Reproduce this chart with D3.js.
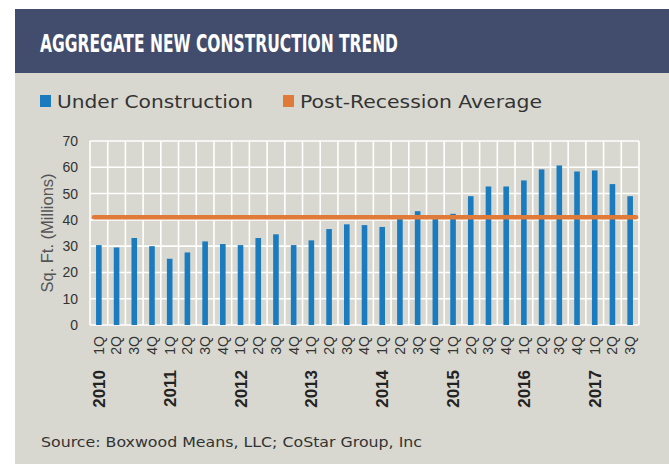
<!DOCTYPE html>
<html>
<head>
<meta charset="utf-8">
<script src="https://cdn.jsdelivr.net/npm/d3@7"></script>
<style>
  html, body { margin: 0; padding: 0; background: #ffffff; }
  svg { display: block; }
</style>
</head>
<body>
<svg id="chart" width="669" height="464"></svg>
<script>
const years = ["2010", "2011", "2012", "2013", "2014", "2015", "2016", "2017"];
const quarters = ["1Q", "2Q", "3Q", "4Q"];
const underConstruction = [
  30.4, 29.5, 33.1, 30.0,
  25.2, 27.6, 31.8, 30.8,
  30.4, 33.1, 34.5, 30.4,
  32.2, 36.5, 38.3, 38.0,
  37.3, 40.3, 43.3, 40.3,
  42.3, 49.0, 52.7, 52.7,
  55.0, 59.2, 60.7, 58.4,
  58.8, 53.6, 49.0
];
const postRecessionAverage = 41.0;
const yTicks = [0, 10, 20, 30, 40, 50, 60, 70];

const title = "AGGREGATE NEW CONSTRUCTION TREND";
const legendLabels = ["Under Construction", "Post-Recession Average"];
const yAxisTitle = "Sq. Ft. (Millions)";
const sourceText = "Source: Boxwood Means, LLC; CoStar Group, Inc";

const cats = [];
underConstruction.forEach((v, i) => {
  cats.push({ key: i, year: years[Math.floor(i / 4)], q: quarters[i % 4], value: v });
});

const svg = d3.select("#chart");
const bg = "#d8d8d0";
const blue = "#1a7bbf";
const orange = "#e07a38";

svg.append("rect").attr("x", 15).attr("y", 9).attr("width", 654).attr("height", 455).attr("fill", bg);
svg.append("rect").attr("x", 15).attr("y", 9).attr("width", 654).attr("height", 64).attr("fill", "#424c6c");

svg.append("text")
  .attr("x", 40).attr("y", 52)
  .attr("fill", "#ffffff")
  .attr("font-family", "'DejaVu Sans Condensed', 'Liberation Sans Narrow', sans-serif")
  .attr("font-stretch", "condensed")
  .attr("font-weight", "bold")
  .attr("font-size", 25)
  .attr("textLength", 358)
  .attr("lengthAdjust", "spacingAndGlyphs")
  .text(title);

const legend = svg.append("g");
const legendItems = [
  { label: legendLabels[0], color: blue, x: 40, w: 196 },
  { label: legendLabels[1], color: orange, x: 283, w: 242 }
];
legendItems.forEach(d => {
  legend.append("rect").attr("x", d.x).attr("y", 95).attr("width", 11).attr("height", 12).attr("fill", d.color);
  legend.append("text")
    .attr("x", d.x + 17).attr("y", 108)
    .attr("fill", "#333333")
    .attr("font-family", "'DejaVu Sans', sans-serif")
    .attr("font-size", 18.5)
    .attr("textLength", d.w)
    .attr("lengthAdjust", "spacingAndGlyphs")
    .text(d.label);
});

const plot = { left: 90, right: 639, top: 141, bottom: 325 };

const x = d3.scaleBand()
  .domain(cats.map(d => d.key))
  .range([plot.left, plot.right])
  .paddingInner(0)
  .paddingOuter(0);

const y = d3.scaleLinear().domain([0, 70]).range([plot.bottom, plot.top]);

const g = svg.append("g");

g.append("g").selectAll("line").data(yTicks).join("line")
  .attr("x1", plot.left).attr("x2", plot.right)
  .attr("y1", d => y(d)).attr("y2", d => y(d))
  .attr("stroke", "#ffffff").attr("stroke-width", 1.6);

const boundaries = cats.map(d => x(d.key)).concat([plot.right]);
g.append("g").selectAll("line").data(boundaries).join("line")
  .attr("x1", d => d).attr("x2", d => d)
  .attr("y1", plot.top).attr("y2", plot.bottom)
  .attr("stroke", "#ffffff").attr("stroke-width", 1.6);

const barW = 5.6;
g.append("g").selectAll("rect").data(cats).join("rect")
  .attr("x", d => x(d.key) + x.bandwidth() / 2 - barW / 2)
  .attr("y", d => y(d.value))
  .attr("width", barW)
  .attr("height", d => y(0) - y(d.value))
  .attr("fill", blue);

g.append("line")
  .attr("x1", x(cats[0].key) + 4)
  .attr("x2", x(cats[cats.length - 1].key) + x.bandwidth() - 3)
  .attr("y1", y(postRecessionAverage)).attr("y2", y(postRecessionAverage))
  .attr("stroke", orange).attr("stroke-width", 4.5)
  .attr("stroke-linecap", "round");

const yAxis = d3.axisLeft(y).tickValues(yTicks).tickSize(0).tickPadding(12);
const yg = svg.append("g").attr("transform", `translate(${plot.left},0)`).call(yAxis);
yg.select(".domain").remove();
yg.selectAll("text")
  .attr("font-family", "'Liberation Sans', Arial, sans-serif")
  .attr("font-size", 14)
  .attr("fill", "#333333");

svg.append("text")
  .attr("transform", `translate(53,233) rotate(-90)`)
  .attr("text-anchor", "middle")
  .attr("font-family", "'Liberation Sans', Arial, sans-serif")
  .attr("font-size", 16.5)
  .attr("fill", "#555555")
  .text(yAxisTitle);

const xAxis = d3.axisBottom(x).tickSize(0).tickFormat(k => cats[k].q);
const xg = svg.append("g").attr("transform", `translate(0,${plot.bottom})`).call(xAxis);
xg.select(".domain").remove();
xg.selectAll(".tick text")
  .attr("transform", "rotate(-90)")
  .attr("text-anchor", "end")
  .attr("dy", "0.35em")
  .attr("x", -11)
  .attr("y", 0)
  .attr("font-family", "'Liberation Sans', Arial, sans-serif")
  .attr("font-size", 14)
  .attr("fill", "#333333");

const yearCats = cats.filter(d => d.q === "1Q");
svg.append("g").selectAll("text").data(yearCats).join("text")
  .attr("transform", d => `translate(${x(d.key) + x.bandwidth() / 2},370) rotate(-90)`)
  .attr("text-anchor", "end")
  .attr("dy", "0.36em")
  .attr("font-family", "'Liberation Sans', Arial, sans-serif")
  .attr("font-weight", "bold")
  .attr("font-size", 17)
  .attr("fill", "#222222")
  .text(d => d.year);

svg.append("text")
  .attr("x", 41).attr("y", 447)
  .attr("font-family", "'DejaVu Sans', sans-serif")
  .attr("font-size", 14)
  .attr("fill", "#333333")
  .attr("textLength", 381)
  .attr("lengthAdjust", "spacingAndGlyphs")
  .text(sourceText);
</script>
</body>
</html>
